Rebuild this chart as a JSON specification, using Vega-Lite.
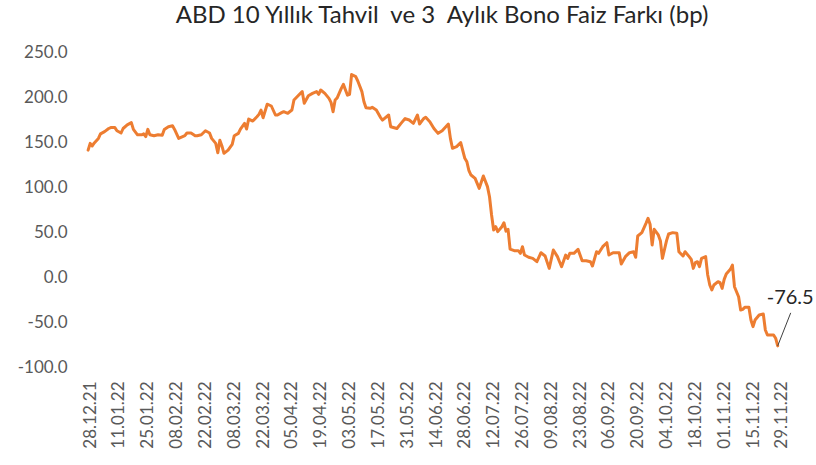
{
  "$schema": "https://vega.github.io/schema/vega-lite/v6.json",
  "autosize": {"type": "none"},
  "padding": {"left": 84, "top": 52, "right": 28, "bottom": 98},
  "width": 704,
  "height": 315,
  "background": "white",
  "config": {"view": {"stroke": null}, "font": "Lato"},
  "title": {
    "text": "ABD 10 Yıllık Tahvil\u00a0 ve 3\u00a0 Aylık Bono Faiz Farkı (bp)",
    "font": "Lato",
    "fontSize": 24,
    "fontWeight": "normal",
    "color": "#262626",
    "anchor": "middle",
    "dx": 6,
    "offset": 15
  },
  "datasets": {
    "main": [
      {"date":"2021-12-27","value":141},{"date":"2021-12-28","value":148.5},{"date":"2021-12-29","value":145.6},{"date":"2021-12-30","value":149},
      {"date":"2022-01-01","value":154},{"date":"2022-01-02","value":159},{"date":"2022-01-04","value":161.5},{"date":"2022-01-06","value":165},
      {"date":"2022-01-07","value":166},{"date":"2022-01-09","value":166},{"date":"2022-01-10","value":162.5},{"date":"2022-01-12","value":160},
      {"date":"2022-01-13","value":165},{"date":"2022-01-15","value":169},{"date":"2022-01-17","value":171.5},{"date":"2022-01-18","value":164},
      {"date":"2022-01-20","value":158},{"date":"2022-01-22","value":158},{"date":"2022-01-23","value":159},{"date":"2022-01-24","value":156},
      {"date":"2022-01-25","value":164},{"date":"2022-01-26","value":158},{"date":"2022-01-28","value":157},{"date":"2022-01-30","value":158},
      {"date":"2022-02-01","value":157.5},{"date":"2022-02-02","value":164},{"date":"2022-02-04","value":167},{"date":"2022-02-06","value":168},
      {"date":"2022-02-07","value":164},{"date":"2022-02-09","value":154},{"date":"2022-02-12","value":157},{"date":"2022-02-13","value":160},
      {"date":"2022-02-15","value":160},{"date":"2022-02-17","value":157},{"date":"2022-02-18","value":157},{"date":"2022-02-20","value":158},
      {"date":"2022-02-22","value":162.5},{"date":"2022-02-24","value":160},{"date":"2022-02-25","value":154},{"date":"2022-02-27","value":148.5},
      {"date":"2022-02-28","value":138},{"date":"2022-03-01","value":152},{"date":"2022-03-02","value":145.6},{"date":"2022-03-03","value":137.4},
      {"date":"2022-03-05","value":141},{"date":"2022-03-07","value":147.4},{"date":"2022-03-08","value":157},{"date":"2022-03-10","value":159.6},
      {"date":"2022-03-11","value":164.4},{"date":"2022-03-13","value":170.7},{"date":"2022-03-14","value":164.4},{"date":"2022-03-15","value":175.5},
      {"date":"2022-03-16","value":174.4},{"date":"2022-03-17","value":173.3},{"date":"2022-03-19","value":178},{"date":"2022-03-20","value":180.7},
      {"date":"2022-03-21","value":185.5},{"date":"2022-03-22","value":177},{"date":"2022-03-24","value":192},{"date":"2022-03-26","value":190},
      {"date":"2022-03-28","value":180},{"date":"2022-03-29","value":180},{"date":"2022-03-31","value":182.6},{"date":"2022-04-01","value":183.7},
      {"date":"2022-04-03","value":181.9},{"date":"2022-04-05","value":185.5},{"date":"2022-04-06","value":196.7},{"date":"2022-04-08","value":201.4},
      {"date":"2022-04-10","value":206},{"date":"2022-04-11","value":193},{"date":"2022-04-13","value":201.4},{"date":"2022-04-15","value":204},
      {"date":"2022-04-17","value":206},{"date":"2022-04-18","value":203},{"date":"2022-04-19","value":207.8},{"date":"2022-04-21","value":204},
      {"date":"2022-04-23","value":198.5},{"date":"2022-04-24","value":194},{"date":"2022-04-25","value":183.7},{"date":"2022-04-26","value":196.7},
      {"date":"2022-04-27","value":199},{"date":"2022-04-29","value":209.6},{"date":"2022-04-30","value":214},{"date":"2022-05-02","value":202},
      {"date":"2022-05-03","value":203},{"date":"2022-05-04","value":225},{"date":"2022-05-06","value":222.6},{"date":"2022-05-07","value":217.8},
      {"date":"2022-05-09","value":206},{"date":"2022-05-10","value":194.8},{"date":"2022-05-11","value":188},{"date":"2022-05-13","value":187.4},
      {"date":"2022-05-14","value":188.5},{"date":"2022-05-16","value":185.5},{"date":"2022-05-18","value":177.4},{"date":"2022-05-19","value":174.4},
      {"date":"2022-05-22","value":180},{"date":"2022-05-23","value":167},{"date":"2022-05-26","value":165},{"date":"2022-05-28","value":170.7},
      {"date":"2022-05-30","value":176},{"date":"2022-06-01","value":174.4},{"date":"2022-06-03","value":170.7},{"date":"2022-06-05","value":180},
      {"date":"2022-06-06","value":170},{"date":"2022-06-08","value":176},{"date":"2022-06-09","value":177.4},{"date":"2022-06-11","value":172.6},
      {"date":"2022-06-13","value":165},{"date":"2022-06-15","value":159.6},{"date":"2022-06-17","value":162.6},{"date":"2022-06-20","value":170},
      {"date":"2022-06-21","value":154},{"date":"2022-06-22","value":143},{"date":"2022-06-24","value":144.8},{"date":"2022-06-26","value":149.3},
      {"date":"2022-06-28","value":131.9},{"date":"2022-06-29","value":128.1},{"date":"2022-06-30","value":118.1},{"date":"2022-07-01","value":113.3},
      {"date":"2022-07-03","value":109.6},{"date":"2022-07-05","value":98.5},{"date":"2022-07-07","value":112.2},{"date":"2022-07-09","value":100.4},
      {"date":"2022-07-10","value":89.2},{"date":"2022-07-11","value":68.9},{"date":"2022-07-12","value":52.2},{"date":"2022-07-13","value":55.9},
      {"date":"2022-07-14","value":50.4},{"date":"2022-07-16","value":55.9},{"date":"2022-07-17","value":60.3},{"date":"2022-07-18","value":51},
      {"date":"2022-07-19","value":53},{"date":"2022-07-20","value":31},{"date":"2022-07-22","value":29.3},{"date":"2022-07-24","value":29.3},
      {"date":"2022-07-25","value":26.3},{"date":"2022-07-26","value":33.7},{"date":"2022-07-27","value":24.4},{"date":"2022-07-29","value":21.9},
      {"date":"2022-07-31","value":20.7},{"date":"2022-08-02","value":17},{"date":"2022-08-04","value":27},{"date":"2022-08-06","value":23.3},
      {"date":"2022-08-08","value":9.6},{"date":"2022-08-10","value":30},{"date":"2022-08-12","value":22.6},{"date":"2022-08-13","value":17},
      {"date":"2022-08-14","value":11.5},{"date":"2022-08-16","value":24.4},{"date":"2022-08-17","value":20.7},{"date":"2022-08-18","value":26.3},
      {"date":"2022-08-20","value":26.3},{"date":"2022-08-22","value":30.7},{"date":"2022-08-24","value":18.1},{"date":"2022-08-26","value":18.1},
      {"date":"2022-08-28","value":17},{"date":"2022-08-29","value":12.2},{"date":"2022-08-31","value":28.1},{"date":"2022-09-01","value":26.3},
      {"date":"2022-09-03","value":33.7},{"date":"2022-09-05","value":38.1},{"date":"2022-09-06","value":24.4},{"date":"2022-09-08","value":27},
      {"date":"2022-09-11","value":27},{"date":"2022-09-12","value":14.4},{"date":"2022-09-14","value":22.6},{"date":"2022-09-16","value":27},
      {"date":"2022-09-18","value":28.1},{"date":"2022-09-19","value":21.9},{"date":"2022-09-20","value":45.6},{"date":"2022-09-22","value":49.3},
      {"date":"2022-09-24","value":59.6},{"date":"2022-09-25","value":65.2},{"date":"2022-09-26","value":58.7},{"date":"2022-09-27","value":35.6},
      {"date":"2022-09-28","value":53},{"date":"2022-09-30","value":46.7},{"date":"2022-10-01","value":40.4},{"date":"2022-10-02","value":20.7},
      {"date":"2022-10-04","value":40.4},{"date":"2022-10-05","value":47.8},{"date":"2022-10-07","value":49.3},{"date":"2022-10-09","value":48.5},
      {"date":"2022-10-10","value":28.1},{"date":"2022-10-12","value":23.3},{"date":"2022-10-13","value":28.1},{"date":"2022-10-15","value":22.6},
      {"date":"2022-10-16","value":19.6},{"date":"2022-10-17","value":9.6},{"date":"2022-10-18","value":15.9},{"date":"2022-10-19","value":17},
      {"date":"2022-10-20","value":11.5},{"date":"2022-10-21","value":20.7},{"date":"2022-10-23","value":22.6},{"date":"2022-10-24","value":2.2},
      {"date":"2022-10-25","value":-8.9},{"date":"2022-10-26","value":-14.4},{"date":"2022-10-27","value":-8.9},{"date":"2022-10-29","value":-5.2},
      {"date":"2022-10-30","value":-6.3},{"date":"2022-10-31","value":-12.6},{"date":"2022-11-01","value":-2.6},{"date":"2022-11-02","value":3.3},
      {"date":"2022-11-04","value":8.5},{"date":"2022-11-05","value":13.3},{"date":"2022-11-06","value":-10.8},{"date":"2022-11-08","value":-21.9},
      {"date":"2022-11-09","value":-36.7},{"date":"2022-11-10","value":-35.9},{"date":"2022-11-11","value":-33.7},{"date":"2022-11-13","value":-33.7},
      {"date":"2022-11-14","value":-47.8},{"date":"2022-11-15","value":-55.2},{"date":"2022-11-16","value":-47.8},{"date":"2022-11-18","value":-42.2},
      {"date":"2022-11-20","value":-41.1},{"date":"2022-11-21","value":-58.9},{"date":"2022-11-22","value":-64.4},{"date":"2022-11-24","value":-64.4},
      {"date":"2022-11-25","value":-64.4},{"date":"2022-11-26","value":-68},{"date":"2022-11-27","value":-76.5}
    ]
  },
  "encoding": {
    "x": {
      "field": "date",
      "type": "temporal",
      "title": null,
      "scale": {
        "domain": [{"year":2021,"month":12,"date":25},{"year":2022,"month":12,"date":2}]
      },
      "axis": {
        "values": [
          {"year":2021,"month":12,"date":28},{"year":2022,"month":1,"date":11},{"year":2022,"month":1,"date":25},
          {"year":2022,"month":2,"date":8},{"year":2022,"month":2,"date":22},{"year":2022,"month":3,"date":8},
          {"year":2022,"month":3,"date":22},{"year":2022,"month":4,"date":5},{"year":2022,"month":4,"date":19},
          {"year":2022,"month":5,"date":3},{"year":2022,"month":5,"date":17},{"year":2022,"month":5,"date":31},
          {"year":2022,"month":6,"date":14},{"year":2022,"month":6,"date":28},{"year":2022,"month":7,"date":12},
          {"year":2022,"month":7,"date":26},{"year":2022,"month":8,"date":9},{"year":2022,"month":8,"date":23},
          {"year":2022,"month":9,"date":6},{"year":2022,"month":9,"date":20},{"year":2022,"month":10,"date":4},
          {"year":2022,"month":10,"date":18},{"year":2022,"month":11,"date":1},{"year":2022,"month":11,"date":15},
          {"year":2022,"month":11,"date":29}
        ],
        "format": "%d.%m.%y",
        "labelAngle": 270,
        "labelFont": "Lato",
        "labelFontSize": 17,
        "labelColor": "#595959",
        "labelPadding": 14,
        "labelOverlap": false,
        "labelFlush": false,
        "domain": false,
        "ticks": false,
        "tickSize": 0,
        "grid": false
      }
    },
    "y": {
      "field": "value",
      "type": "quantitative",
      "title": null,
      "scale": {"domain": [-100, 250], "nice": false, "zero": false},
      "axis": {
        "values": [-100, -50, 0, 50, 100, 150, 200, 250],
        "labelExpr": "replace(format(datum.value, '.1f'), '\u2212', '-')",
        "labelFont": "Lato",
        "labelFontSize": 17,
        "labelColor": "#595959",
        "labelPadding": 17,
        "labelOverlap": false,
        "labelFlush": false,
        "domain": false,
        "ticks": false,
        "tickSize": 0,
        "grid": false
      }
    }
  },
  "layer": [
    {
      "data": {"name": "main", "format": {"parse": {"date": "date:'%Y-%m-%d'"}}},
      "mark": {"type": "line", "color": "#ED7D31", "strokeWidth": 3, "strokeJoin": "round", "strokeCap": "round", "clip": false}
    },
    {
      "data": {"values": [{"date":"2022-11-27","value":-76.5,"label":"-76.5"}], "format": {"parse": {"date": "date:'%Y-%m-%d'"}}},
      "layer": [
        {
          "mark": {"type": "rule", "color": "#404040", "strokeWidth": 1, "x2Offset": 13, "y2Offset": -33},
          "encoding": {
            "x2": {"field": "date"},
            "y2": {"field": "value"}
          }
        },
        {
          "mark": {"type": "text", "align": "left", "baseline": "middle", "dx": -11, "dy": -48, "font": "Lato", "fontSize": 20, "color": "#262626"},
          "encoding": {
            "text": {"field": "label", "type": "nominal"}
          }
        }
      ]
    }
  ]
}
